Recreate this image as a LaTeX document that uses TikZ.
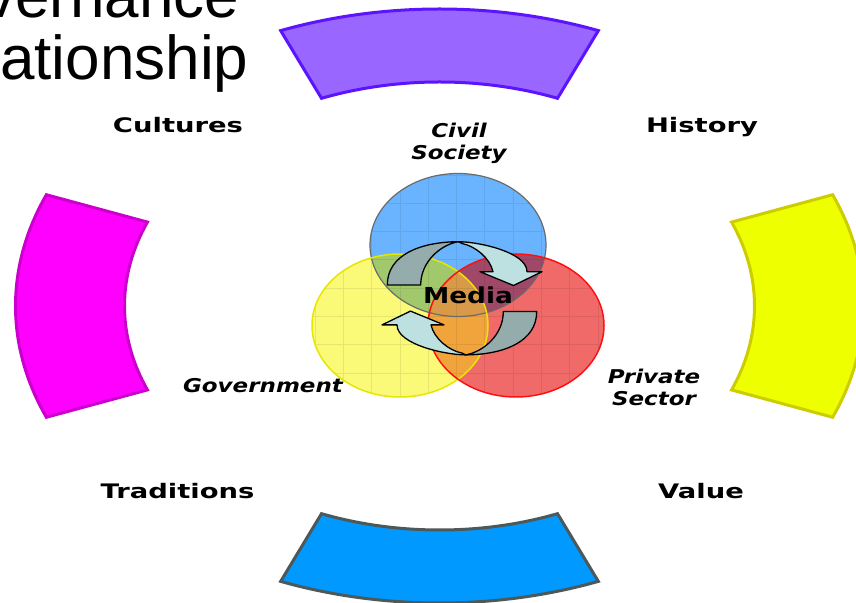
\documentclass[tikz,border=0pt]{standalone}
\usepackage{fontspec}
\setmainfont{DejaVu Sans}
\newfontfamily\titlefont{Liberation Sans}
\usetikzlibrary{calc}
\definecolor{segPfill}{HTML}{9966FF}
\definecolor{segPdraw}{HTML}{5C14FF}
\definecolor{segMfill}{HTML}{FF00FF}
\definecolor{segMdraw}{HTML}{CC00CC}
\definecolor{segYfill}{HTML}{EEFF00}
\definecolor{segYdraw}{HTML}{CCCC00}
\definecolor{segBfill}{HTML}{0099FF}
\definecolor{segBdraw}{HTML}{4D5959}
\definecolor{cB}{HTML}{6AB4FF}
\definecolor{cY}{HTML}{FAFA78}
\definecolor{cR}{HTML}{F06A6A}
\definecolor{cBY}{HTML}{A2C86C}
\definecolor{cBR}{HTML}{A04868}
\definecolor{cYR}{HTML}{F2A43C}
\definecolor{cBYR}{HTML}{D89A48}
\definecolor{lB}{HTML}{6A6A6A}
\definecolor{lY}{HTML}{E6E600}
\definecolor{lR}{HTML}{FF1010}
\definecolor{arrLight}{HTML}{BDE0E0}
\definecolor{arrDark}{HTML}{95ACAC}
\tikzset{
  seg/.style={line width=3pt, line join=miter},
  cornerlabel/.style={inner sep=0pt, anchor=base, font=\bfseries\fontsize{20}{24}\selectfont},
  circlabel/.style={inner sep=0pt, anchor=base, font=\bfseries\itshape\fontsize{19}{22}\selectfont},
  titletext/.style={inner sep=0pt, anchor=base west, font=\titlefont\fontsize{62}{70}\selectfont},
  arrowpart/.style={draw=black, line width=1.3pt, line join=round},
  ell/.style={x radius=88pt, y radius=71.5pt},
}
\begin{document}
\begin{tikzpicture}[x=1pt,y=1pt]
\useasboundingbox (0,0) rectangle (856,602);
\fill[white] (0,0) rectangle (856,602);
\coordinate (C) at (439.5,296);
% ring segments
\foreach \c/\fc/\dc in {90/segPfill/segPdraw,180/segMfill/segMdraw,0/segYfill/segYdraw,270/segBfill/segBdraw}{
  \pgfmathsetmacro\sa{\c-22}
  \pgfmathsetmacro\ea{\c+22}
  \draw[seg, fill=\fc, draw=\dc] ([shift={(C)}]\sa:424pt and 297pt) arc[start angle=\sa, end angle=\ea, x radius=424pt, y radius=297pt] -- ([shift={(C)}]\ea:315pt and 224pt) arc[start angle=\ea, end angle=\sa, x radius=315pt, y radius=224pt] -- cycle;
}
% title
\node[titletext] (title1) at (-16,584.5) {vernance};
\node[titletext] (title2) at (0,522) {ationship};
% venn ellipses
\coordinate (eB) at (458,357);
\coordinate (eY) at (400,276.5);
\coordinate (eR) at (516,276.5);
\fill[cB] (eB) ellipse[ell];
\fill[cY] (eY) ellipse[ell];
\fill[cR] (eR) ellipse[ell];
\begin{scope}\clip (eB) ellipse[ell]; \fill[cBY] (eY) ellipse[ell]; \end{scope}
\begin{scope}\clip (eB) ellipse[ell]; \fill[cBR] (eR) ellipse[ell]; \end{scope}
\begin{scope}\clip (eY) ellipse[ell]; \fill[cYR] (eR) ellipse[ell]; \end{scope}
\begin{scope}\clip (eB) ellipse[ell]; \clip (eY) ellipse[ell]; \fill[cBYR] (eR) ellipse[ell]; \end{scope}
\begin{scope}
  \clip (eB) ellipse[ell] (eY) ellipse[ell] (eR) ellipse[ell];
  \draw[black, opacity=0.08, line width=0.9pt, shift={(3.8,2.5)}] (283,141.5) grid[step=28.3pt] (622,453);
\end{scope}
\draw[lB, line width=1.2pt] (eB) ellipse[ell];
\draw[lY, line width=1.5pt] (eY) ellipse[ell];
\draw[lR, line width=1.5pt] (eR) ellipse[ell];
% cycle arrows
\foreach \r in {0,180}{
  \begin{scope}[rotate around={\r:(462,303.7)}]
    \filldraw[arrowpart, fill=arrLight] (458.3,360.3) .. controls (478,360.3) and (527,350) .. (527,330.3) -- (542,330.3) -- (513.5,316.5) -- (480,330.3) -- (493,330.3) .. controls (490,344) and (475,356) .. (462,358.5) -- cycle;
    \filldraw[arrowpart, fill=arrDark] (387.3,317) .. controls (387.3,347) and (420,360) .. (458.3,360.3) .. controls (440,357) and (420.7,340) .. (420.7,317) -- cycle;
  \end{scope}
}
% labels
\node[cornerlabel] (cultures) at (178,469.7) {\scalebox{1.37}[1]{Cultures}};
\node[cornerlabel] (history) at (702,469.7) {\scalebox{1.37}[1]{History}};
\node[cornerlabel] (traditions) at (177.5,103.7) {\scalebox{1.37}[1]{Traditions}};
\node[cornerlabel] (value) at (701,103.7) {\scalebox{1.37}[1]{Value}};
\node[circlabel] (civil) at (459,464) {\scalebox{1.21}[1]{Civil}};
\node[circlabel] (society) at (459,442) {\scalebox{1.21}[1]{Society}};
\node[circlabel] (government) at (263,209) {\scalebox{1.21}[1]{Government}};
\node[circlabel] (private) at (654,218) {\scalebox{1.21}[1]{Private}};
\node[circlabel] (sector) at (654,196) {\scalebox{1.21}[1]{Sector}};
\node[inner sep=0pt, anchor=base, font=\bfseries\fontsize{22}{26}\selectfont] (media) at (468,298.7) {\scalebox{1.2}[1]{Media}};
\end{tikzpicture}
\end{document}
